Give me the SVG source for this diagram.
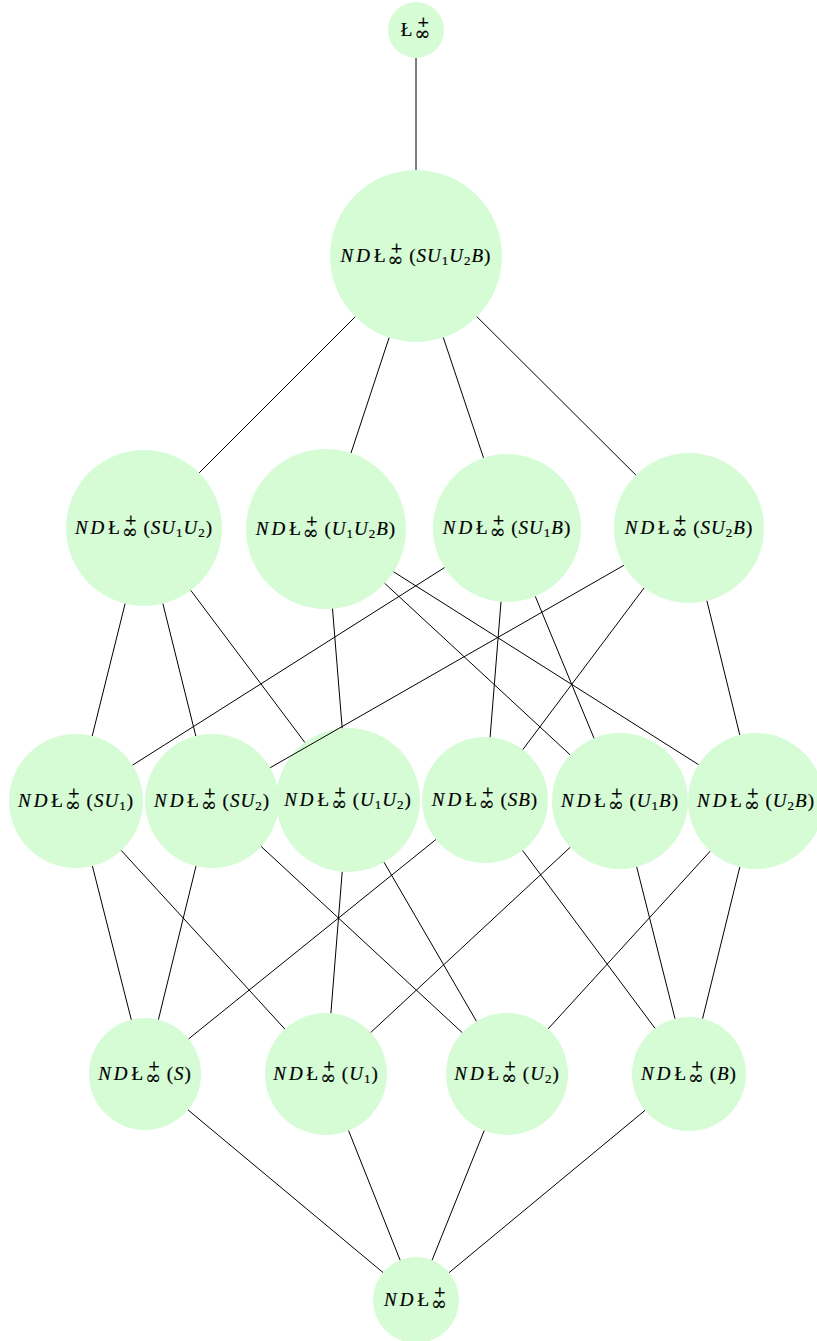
<svg xmlns="http://www.w3.org/2000/svg" width="817" height="1341" viewBox="0 0 817 1341">
<style>
.n{fill:#d6fcd6;stroke:none}
.t{font-family:"Liberation Serif","Times New Roman",serif;font-size:19px;letter-spacing:1px;fill:#000;stroke:#000;stroke-width:0.2;text-anchor:middle}
.i{font-style:italic}
.sm{font-family:"DejaVu Serif",serif;font-size:15px}
.inf{font-family:"DejaVu Serif",serif;font-size:19px}
.d{font-size:13px}
.e line{stroke:#000;stroke-width:1}
</style>
<rect width="817" height="1341" fill="#fff"/>
<g id="n-top"><circle class="n" cx="416" cy="30" r="28"/><text class="t" x="416" y="36">Ł<tspan class="sm" dx="3.6" dy="-9">+</tspan><tspan class="inf" dx="-16.1" dy="12.7">∞</tspan></text></g>
<g id="n-SU1U2B"><circle class="n" cx="416" cy="256" r="86"/><text class="t" x="416" y="262"><tspan class="i">N</tspan><tspan class="i" dx="2">D</tspan><tspan dx="2.9">Ł</tspan><tspan class="sm" dx="3.6" dy="-9">+</tspan><tspan class="inf" dx="-16.1" dy="12.7">∞</tspan><tspan dx="4.7" dy="-3.7">(</tspan><tspan class="i">SU</tspan><tspan class="d" dy="3">1</tspan><tspan class="i" dy="-3">U</tspan><tspan class="d" dy="3">2</tspan><tspan class="i" dy="-3">B</tspan>)</text></g>
<g id="n-SU1U2"><circle class="n" cx="144" cy="528" r="78"/><text class="t" x="144" y="534"><tspan class="i">N</tspan><tspan class="i" dx="2">D</tspan><tspan dx="2.9">Ł</tspan><tspan class="sm" dx="3.6" dy="-9">+</tspan><tspan class="inf" dx="-16.1" dy="12.7">∞</tspan><tspan dx="4.7" dy="-3.7">(</tspan><tspan class="i">SU</tspan><tspan class="d" dy="3">1</tspan><tspan class="i" dy="-3">U</tspan><tspan class="d" dy="3">2</tspan><tspan dy="-3">)</tspan></text></g>
<g id="n-U1U2B"><circle class="n" cx="326" cy="529" r="80"/><text class="t" x="326" y="535"><tspan class="i">N</tspan><tspan class="i" dx="2">D</tspan><tspan dx="2.9">Ł</tspan><tspan class="sm" dx="3.6" dy="-9">+</tspan><tspan class="inf" dx="-16.1" dy="12.7">∞</tspan><tspan dx="4.7" dy="-3.7">(</tspan><tspan class="i">U</tspan><tspan class="d" dy="3">1</tspan><tspan class="i" dy="-3">U</tspan><tspan class="d" dy="3">2</tspan><tspan class="i" dy="-3">B</tspan>)</text></g>
<g id="n-SU1B"><circle class="n" cx="507" cy="528" r="74"/><text class="t" x="507" y="534"><tspan class="i">N</tspan><tspan class="i" dx="2">D</tspan><tspan dx="2.9">Ł</tspan><tspan class="sm" dx="3.6" dy="-9">+</tspan><tspan class="inf" dx="-16.1" dy="12.7">∞</tspan><tspan dx="4.7" dy="-3.7">(</tspan><tspan class="i">SU</tspan><tspan class="d" dy="3">1</tspan><tspan class="i" dy="-3">B</tspan>)</text></g>
<g id="n-SU2B"><circle class="n" cx="689" cy="528" r="75"/><text class="t" x="689" y="534"><tspan class="i">N</tspan><tspan class="i" dx="2">D</tspan><tspan dx="2.9">Ł</tspan><tspan class="sm" dx="3.6" dy="-9">+</tspan><tspan class="inf" dx="-16.1" dy="12.7">∞</tspan><tspan dx="4.7" dy="-3.7">(</tspan><tspan class="i">SU</tspan><tspan class="d" dy="3">2</tspan><tspan class="i" dy="-3">B</tspan>)</text></g>
<g id="n-SU1"><circle class="n" cx="76" cy="801" r="67"/><text class="t" x="76" y="807"><tspan class="i">N</tspan><tspan class="i" dx="2">D</tspan><tspan dx="2.9">Ł</tspan><tspan class="sm" dx="3.6" dy="-9">+</tspan><tspan class="inf" dx="-16.1" dy="12.7">∞</tspan><tspan dx="4.7" dy="-3.7">(</tspan><tspan class="i">SU</tspan><tspan class="d" dy="3">1</tspan><tspan dy="-3">)</tspan></text></g>
<g id="n-SU2"><circle class="n" cx="212" cy="801" r="67"/><text class="t" x="212" y="807"><tspan class="i">N</tspan><tspan class="i" dx="2">D</tspan><tspan dx="2.9">Ł</tspan><tspan class="sm" dx="3.6" dy="-9">+</tspan><tspan class="inf" dx="-16.1" dy="12.7">∞</tspan><tspan dx="4.7" dy="-3.7">(</tspan><tspan class="i">SU</tspan><tspan class="d" dy="3">2</tspan><tspan dy="-3">)</tspan></text></g>
<g id="n-U1U2"><circle class="n" cx="348" cy="800" r="72"/><text class="t" x="348" y="806"><tspan class="i">N</tspan><tspan class="i" dx="2">D</tspan><tspan dx="2.9">Ł</tspan><tspan class="sm" dx="3.6" dy="-9">+</tspan><tspan class="inf" dx="-16.1" dy="12.7">∞</tspan><tspan dx="4.7" dy="-3.7">(</tspan><tspan class="i">U</tspan><tspan class="d" dy="3">1</tspan><tspan class="i" dy="-3">U</tspan><tspan class="d" dy="3">2</tspan><tspan dy="-3">)</tspan></text></g>
<g id="n-SB"><circle class="n" cx="485" cy="800" r="63"/><text class="t" x="485" y="806"><tspan class="i">N</tspan><tspan class="i" dx="2">D</tspan><tspan dx="2.9">Ł</tspan><tspan class="sm" dx="3.6" dy="-9">+</tspan><tspan class="inf" dx="-16.1" dy="12.7">∞</tspan><tspan dx="4.7" dy="-3.7">(</tspan><tspan class="i">SB</tspan>)</text></g>
<g id="n-U1B"><circle class="n" cx="620" cy="801" r="68"/><text class="t" x="620" y="807"><tspan class="i">N</tspan><tspan class="i" dx="2">D</tspan><tspan dx="2.9">Ł</tspan><tspan class="sm" dx="3.6" dy="-9">+</tspan><tspan class="inf" dx="-16.1" dy="12.7">∞</tspan><tspan dx="4.7" dy="-3.7">(</tspan><tspan class="i">U</tspan><tspan class="d" dy="3">1</tspan><tspan class="i" dy="-3">B</tspan>)</text></g>
<g id="n-U2B"><circle class="n" cx="756" cy="801" r="68"/><text class="t" x="756" y="807"><tspan class="i">N</tspan><tspan class="i" dx="2">D</tspan><tspan dx="2.9">Ł</tspan><tspan class="sm" dx="3.6" dy="-9">+</tspan><tspan class="inf" dx="-16.1" dy="12.7">∞</tspan><tspan dx="4.7" dy="-3.7">(</tspan><tspan class="i">U</tspan><tspan class="d" dy="3">2</tspan><tspan class="i" dy="-3">B</tspan>)</text></g>
<g id="n-S"><circle class="n" cx="145" cy="1074" r="56"/><text class="t" x="145" y="1080"><tspan class="i">N</tspan><tspan class="i" dx="2">D</tspan><tspan dx="2.9">Ł</tspan><tspan class="sm" dx="3.6" dy="-9">+</tspan><tspan class="inf" dx="-16.1" dy="12.7">∞</tspan><tspan dx="4.7" dy="-3.7">(</tspan><tspan class="i">S</tspan>)</text></g>
<g id="n-U1"><circle class="n" cx="326" cy="1074" r="61"/><text class="t" x="326" y="1080"><tspan class="i">N</tspan><tspan class="i" dx="2">D</tspan><tspan dx="2.9">Ł</tspan><tspan class="sm" dx="3.6" dy="-9">+</tspan><tspan class="inf" dx="-16.1" dy="12.7">∞</tspan><tspan dx="4.7" dy="-3.7">(</tspan><tspan class="i">U</tspan><tspan class="d" dy="3">1</tspan><tspan dy="-3">)</tspan></text></g>
<g id="n-U2"><circle class="n" cx="507" cy="1074" r="61"/><text class="t" x="507" y="1080"><tspan class="i">N</tspan><tspan class="i" dx="2">D</tspan><tspan dx="2.9">Ł</tspan><tspan class="sm" dx="3.6" dy="-9">+</tspan><tspan class="inf" dx="-16.1" dy="12.7">∞</tspan><tspan dx="4.7" dy="-3.7">(</tspan><tspan class="i">U</tspan><tspan class="d" dy="3">2</tspan><tspan dy="-3">)</tspan></text></g>
<g id="n-B"><circle class="n" cx="689" cy="1074" r="57"/><text class="t" x="689" y="1080"><tspan class="i">N</tspan><tspan class="i" dx="2">D</tspan><tspan dx="2.9">Ł</tspan><tspan class="sm" dx="3.6" dy="-9">+</tspan><tspan class="inf" dx="-16.1" dy="12.7">∞</tspan><tspan dx="4.7" dy="-3.7">(</tspan><tspan class="i">B</tspan>)</text></g>
<g id="n-bottom"><circle class="n" cx="416" cy="1300" r="43"/><text class="t" x="416" y="1306"><tspan class="i">N</tspan><tspan class="i" dx="2">D</tspan><tspan dx="2.9">Ł</tspan><tspan class="sm" dx="3.6" dy="-9">+</tspan><tspan class="inf" dx="-16.1" dy="12.7">∞</tspan></text></g>
<g id="connectors" class="e">
<line x1="416" y1="58" x2="416" y2="170"/>
<line x1="355.2" y1="316.8" x2="199.2" y2="472.8"/>
<line x1="389.1" y1="337.7" x2="351" y2="453"/>
<line x1="443.3" y1="337.5" x2="483.5" y2="457.8"/>
<line x1="476.9" y1="316.7" x2="635.9" y2="475.1"/>
<line x1="125.1" y1="603.7" x2="92.2" y2="736"/>
<line x1="162.9" y1="603.7" x2="195.8" y2="736"/>
<line x1="190.8" y1="590.4" x2="304.8" y2="742.4"/>
<line x1="332.5" y1="608.7" x2="342.2" y2="728.2"/>
<line x1="384.7" y1="583.3" x2="570.1" y2="754.8"/>
<line x1="393.6" y1="571.8" x2="698.5" y2="764.6"/>
<line x1="444.5" y1="567.6" x2="132.6" y2="765.1"/>
<line x1="501" y1="601.8" x2="490.1" y2="737.2"/>
<line x1="535.3" y1="596.4" x2="594" y2="738.2"/>
<line x1="623.9" y1="565.3" x2="270.2" y2="767.7"/>
<line x1="644" y1="588" x2="522.8" y2="749.6"/>
<line x1="706.9" y1="600.8" x2="739.8" y2="735"/>
<line x1="92.4" y1="866" x2="131.3" y2="1019.7"/>
<line x1="121.2" y1="850.4" x2="284.8" y2="1029"/>
<line x1="196" y1="866.1" x2="158.4" y2="1019.6"/>
<line x1="261.2" y1="846.5" x2="462.2" y2="1032.6"/>
<line x1="342.2" y1="871.8" x2="330.9" y2="1013.2"/>
<line x1="384.1" y1="862.3" x2="476.4" y2="1021.2"/>
<line x1="435.9" y1="839.5" x2="188.6" y2="1038.9"/>
<line x1="522.6" y1="850.5" x2="655" y2="1028.3"/>
<line x1="570.2" y1="847.3" x2="370.7" y2="1032.5"/>
<line x1="636.7" y1="866.9" x2="675" y2="1018.7"/>
<line x1="710.2" y1="851.2" x2="548.1" y2="1028.9"/>
<line x1="739.8" y1="867" x2="702.6" y2="1018.6"/>
<line x1="188" y1="1109.9" x2="383" y2="1272.5"/>
<line x1="348.6" y1="1130.7" x2="400.1" y2="1260.1"/>
<line x1="484.2" y1="1130.6" x2="432.1" y2="1260.1"/>
<line x1="645.1" y1="1110.3" x2="449.1" y2="1272.6"/>
</g>
</svg>
